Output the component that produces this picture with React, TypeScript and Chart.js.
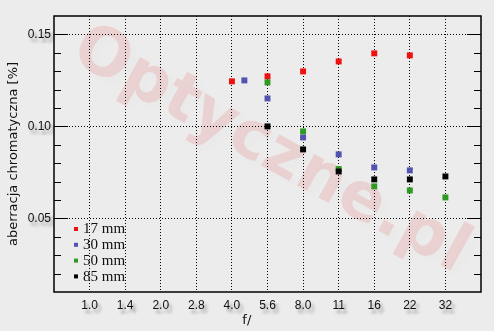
import React, { useEffect, useRef } from "react";
import { Chart, registerables } from "chart.js";

Chart.register(...registerables);

// ---- data ----
const fStops = ["1.0", "1.4", "2.0", "2.8", "4.0", "5.6", "8.0", "11", "16", "22", "32"];

const labels17 = "17 mm";
const apertures17 = ["4.0", "5.6", "8.0", "11", "16", "22"];
const values17 = [0.1245, 0.1272, 0.1299, 0.1353, 0.1397, 0.1386];

const labels30 = "30 mm";
const apertures30 = ["4.5", "5.6", "8.0", "11", "16", "22"];
const values30 = [0.125, 0.1152, 0.094, 0.0848, 0.0777, 0.0761];

const labels50 = "50 mm";
const apertures50 = ["5.6", "8.0", "11", "16", "22", "32"];
const values50 = [0.1239, 0.0973, 0.0768, 0.0674, 0.0652, 0.0614];

const labels85 = "85 mm";
const apertures85 = ["5.6", "8.0", "11", "16", "22", "32"];
const values85 = [0.1, 0.0875, 0.0755, 0.0712, 0.0712, 0.0728];

const yMin = 0.01;
const yMax = 0.16;
const yStep = 0.01;

// position of an aperture on the f-stop category axis (log interpolation for in-between stops)
function stopPosition(a: string): number {
  const idx = fStops.indexOf(a);
  if (idx >= 0) return idx;
  const f = parseFloat(a);
  for (let i = 0; i < fStops.length - 1; i++) {
    const lo = parseFloat(fStops[i]);
    const hi = parseFloat(fStops[i + 1]);
    if (f > lo && f < hi) return i + Math.log(f / lo) / Math.log(hi / lo);
  }
  return 0;
}

function toPoints(aps: string[], vals: number[]) {
  return aps.map((a, i) => ({ x: stopPosition(a), y: vals[i] }));
}

const SANS = "'Liberation Sans', Arial, sans-serif";
const TITLE = "'DejaVu Sans', Verdana, sans-serif";
const SERIF = "'Liberation Serif', 'Times New Roman', serif";

const isMajor = (v: number) => Math.round(v * 100) % 5 === 0;

const backgroundPlugin = {
  id: "bgWatermark",
  beforeDraw(chart: any) {
    const ctx = chart.ctx;
    ctx.save();
    ctx.fillStyle = "#ececec";
    ctx.fillRect(0, 0, chart.width, chart.height);
    // watermark
    ctx.translate(262, 166);
    ctx.rotate((29 * Math.PI) / 180);
    ctx.font = `bold 66px 'DejaVu Sans', Verdana, sans-serif`;
    ctx.textAlign = "center";
    ctx.textBaseline = "alphabetic";
    ctx.shadowColor = "rgba(0,0,0,0.08)";
    ctx.shadowOffsetX = 7;
    ctx.shadowOffsetY = 7;
    ctx.shadowBlur = 6;
    ctx.fillStyle = "rgba(235,60,60,0.14)";
    ctx.fillText("Optyczne.pl", 0, 0);
    ctx.restore();
  },
};

const framePlugin = {
  id: "frameTicks",
  beforeDatasetsDraw(chart: any) {
    const ctx = chart.ctx;
    const { left, right, top, bottom } = chart.chartArea;
    const yScale = chart.scales.y;
    ctx.save();
    ctx.strokeStyle = "#000";
    ctx.lineWidth = 1;
    yScale.ticks.forEach((t: any) => {
      const v = t.value;
      if (v <= yMin + 1e-9 || v >= yMax - 1e-9) return;
      const py = Math.round(yScale.getPixelForValue(v)) + 0.5;
      const len = isMajor(v) ? 14 : 7;
      ctx.beginPath();
      ctx.moveTo(left, py);
      ctx.lineTo(left + len, py);
      ctx.moveTo(right - len, py);
      ctx.lineTo(right, py);
      ctx.stroke();
    });
    ctx.lineWidth = 1.5;
    ctx.strokeRect(left, top, right - left, bottom - top);
    ctx.restore();
  },
  afterDatasetsDraw(chart: any) {
    const ctx = chart.ctx;
    const { left, bottom } = chart.chartArea;
    // legend
    ctx.save();
    ctx.font = `15px ${SERIF}`;
    ctx.textAlign = "left";
    ctx.textBaseline = "middle";
    chart.data.datasets.forEach((ds: any, i: number) => {
      const y = bottom - 63 + i * 15.8;
      ctx.fillStyle = ds.backgroundColor;
      ctx.fillRect(left + 20, y - 2, 4, 4);
      ctx.fillStyle = "#111";
      ctx.fillText(ds.label, left + 29, y + 0.5);
    });
    ctx.restore();
    // shadow for tick labels drawn next (ticks z = 1)
    ctx.shadowColor = "rgba(0,0,0,0.35)";
    ctx.shadowOffsetX = 3;
    ctx.shadowOffsetY = 4;
    ctx.shadowBlur = 3;
  },
  afterDraw(chart: any) {
    const ctx = chart.ctx;
    ctx.shadowColor = "rgba(0,0,0,0)";
    ctx.shadowOffsetX = 0;
    ctx.shadowOffsetY = 0;
    ctx.shadowBlur = 0;
  },
};

export default function App() {
  const ref = useRef<HTMLCanvasElement | null>(null);

  useEffect(() => {
    document.body.style.margin = "0";
    const canvas = ref.current;
    if (!canvas) return;
    const mk = (label: string, aps: string[], vals: number[], color: string, order: number) => ({
      label,
      data: toPoints(aps, vals),
      backgroundColor: color,
      borderColor: color,
      pointStyle: "rect",
      pointRadius: 4.2,
      pointBorderWidth: 0,
      showLine: false,
      order,
    });
    const chart = new Chart(canvas, {
      type: "scatter",
      data: {
        datasets: [
          mk(labels17, apertures17, values17, "#ee1111", 3),
          mk(labels30, apertures30, values30, "#5252b0", 2),
          mk(labels50, apertures50, values50, "#2f9a22", 1),
          mk(labels85, apertures85, values85, "#000000", 0),
        ] as any,
      },
      options: {
        animation: false,
        responsive: false,
        events: [],
        layout: { padding: { top: 16, right: 13, left: 0, bottom: 0 } },
        plugins: {
          legend: { display: false },
          tooltip: { enabled: false },
        },
        scales: {
          x: {
            type: "linear",
            min: -1,
            max: fStops.length,
            afterFit: (s: any) => {
              s.height = 39;
            },
            afterBuildTicks: (s: any) => {
              const t = [];
              for (let i = -1; i <= fStops.length; i++) t.push({ value: i });
              s.ticks = t;
            },
            ticks: {
              z: 1,
              autoSkip: false,
              maxRotation: 0,
              minRotation: 0,
              padding: 6,
              color: "#111",
              font: { family: SANS, size: 12 },
              callback: (v: any) => {
                const i = Math.round(Number(v));
                return i >= 0 && i < fStops.length ? fStops[i] : "";
              },
            },
            grid: {
              drawTicks: false,
              lineWidth: 1,
              color: (c: any) => {
                const v = c.tick ? c.tick.value : -1;
                return v >= 0 && v < fStops.length ? "#000" : "rgba(0,0,0,0)";
              },
            },
            border: { display: false, dash: [1, 2] },
            title: {
              display: true,
              text: "f/" + "\u00a0".repeat(10),
              color: "#111",
              font: { family: TITLE, size: 13 },
              padding: { top: 0, bottom: 3 },
            },
          },
          y: {
            type: "linear",
            min: yMin,
            max: yMax,
            afterFit: (s: any) => {
              s.width = 54;
            },
            ticks: {
              z: 1,
              stepSize: yStep,
              autoSkip: false,
              padding: 3,
              color: "#111",
              font: { family: SANS, size: 12 },
              callback: (v: any) => (isMajor(Number(v)) ? Number(v).toFixed(2) : ""),
            },
            grid: {
              drawTicks: false,
              lineWidth: 1,
              color: (c: any) => {
                const v = c.tick ? c.tick.value : 0;
                if (v <= yMin + 1e-9 || v >= yMax - 1e-9) return "rgba(0,0,0,0)";
                return isMajor(v) ? "#000" : "rgba(0,0,0,0)";
              },
            },
            border: { display: false, dash: [1, 2] },
            title: {
              display: true,
              text: "aberracja chromatyczna [%]",
              color: "#111",
              font: { family: TITLE, size: 13 },
              padding: { top: 6, bottom: 0 },
            },
          },
        },
      } as any,
      plugins: [backgroundPlugin, framePlugin],
    });
    return () => chart.destroy();
  }, []);

  return <canvas ref={ref} width={494} height={331} style={{ display: "block", width: 494, height: 331 }} />;
}
